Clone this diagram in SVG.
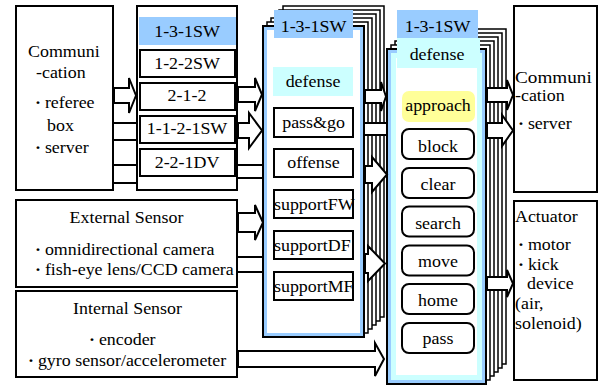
<svg xmlns="http://www.w3.org/2000/svg" width="607" height="388" viewBox="0 0 607 388">
<style>
.t{font-family:'Liberation Serif','Times New Roman',serif;font-size:16px;fill:#000}
.b{font-weight:bold}
.m{text-anchor:middle}
.box{fill:#fff;stroke:#000;stroke-width:2}
.ib{fill:none;stroke:#000;stroke-width:2}
.layer{fill:#fff;stroke:#000;stroke-width:1.5}
.blue{fill:#99CCFF}
.cyan{fill:#CCFFFF}
.arr{fill:#fff;stroke:#000;stroke-width:2;stroke-linejoin:miter}
.ln{stroke:#000;stroke-width:2;fill:none}
</style>
<rect x="0" y="0" width="607" height="388" fill="#fff"/>

<g id="comm-left">
<rect class="box" x="16" y="6" width="97" height="184"/>
<text class="t" transform="translate(28,57) scale(1.12,1)">Communi</text>
<text class="t" transform="translate(36,78) scale(1.12,1)">-cation</text>
<text class="t" transform="translate(35,108) scale(1.12,1)"><tspan class="b">·</tspan><tspan dx="3.5">referee</tspan></text>
<text class="t" transform="translate(47,131) scale(1.12,1)">box</text>
<text class="t" transform="translate(35,153) scale(1.12,1)"><tspan class="b">·</tspan><tspan dx="3.5">server</tspan></text>
</g>

<g id="formation">
<rect class="box" x="137" y="6" width="100" height="184"/>
<rect class="blue" x="139" y="17" width="97" height="28"/>
<rect class="ib" x="140" y="50" width="95" height="27"/>
<rect class="ib" x="140" y="83" width="95" height="27"/>
<rect class="ib" x="140" y="116" width="95" height="27"/>
<rect class="ib" x="140" y="149" width="95" height="27"/>
<text class="t m" transform="translate(187,36.5) scale(1.12,1)">1-3-1SW</text>
<text class="t m" transform="translate(187,68.5) scale(1.12,1)">1-2-2SW</text>
<text class="t m" transform="translate(187,101) scale(1.12,1)">2-1-2</text>
<text class="t m" transform="translate(187,134) scale(1.12,1)">1-1-2-1SW</text>
<text class="t m" transform="translate(187,167.5) scale(1.12,1)">2-2-1DV</text>
</g>

<g id="external-sensor">
<rect class="box" x="16" y="200" width="221" height="87"/>
<text class="t m" transform="translate(126.5,223) scale(1.12,1)">External Sensor</text>
<text class="t" transform="translate(35,255) scale(1.12,1)"><tspan class="b">·</tspan><tspan dx="3.5">omnidirectional camera</tspan></text>
<text class="t" transform="translate(35,275) scale(1.12,1)"><tspan class="b">·</tspan><tspan dx="3.5">fish-eye lens/CCD camera</tspan></text>
</g>

<g id="internal-sensor">
<rect class="box" x="16" y="291" width="221" height="86"/>
<text class="t m" transform="translate(127.5,314) scale(1.12,1)">Internal Sensor</text>
<text class="t" transform="translate(89,345) scale(1.12,1)"><tspan class="b">·</tspan><tspan dx="3.5">encoder</tspan></text>
<text class="t" transform="translate(28,366) scale(1.12,1)"><tspan class="b">·</tspan><tspan dx="3.5">gyro sensor/accelerometer</tspan></text>
</g>

<g id="stack-roles">
<rect class="layer" x="283" y="6" width="101" height="311"/>
<rect class="layer" x="279" y="10" width="101" height="311"/>
<rect class="layer" x="275" y="14" width="101" height="311"/>
<rect class="layer" x="271" y="18" width="101" height="311"/>
<rect class="layer" x="267" y="22" width="101" height="311"/>
<rect class="box" x="263" y="26" width="101" height="311"/>
<rect x="265.5" y="28.5" width="96" height="306" fill="none" stroke="#99CCFF" stroke-width="3"/>
<rect class="blue" x="274" y="10" width="79" height="28"/>
<text class="t m" transform="translate(313.5,32) scale(1.12,1)">1-3-1SW</text>
<rect class="cyan" x="273" y="67" width="80" height="29"/>
<text class="t m" transform="translate(313,87) scale(1.12,1)">defense</text>
<text class="t m" transform="translate(313.5,128) scale(1.12,1)">pass&amp;go</text>
<text class="t m" transform="translate(313.5,168) scale(1.12,1)">offense</text>
<text class="t" transform="translate(274,209.5) scale(1.12,1)">supportFW</text>
<text class="t" transform="translate(274,250.5) scale(1.12,1)">supportDF</text>
<text class="t" transform="translate(274,291.5) scale(1.12,1)">supportMF</text>
<rect class="ib" x="274" y="108" width="79" height="29"/>
<rect class="ib" x="274" y="149" width="79" height="28"/>
<rect class="ib" x="274" y="190" width="79" height="28"/>
<rect class="ib" x="274" y="231" width="79" height="28"/>
<rect class="ib" x="274" y="272" width="79" height="28"/>
</g>

<g id="stack-defense">
<rect class="layer" x="407" y="29" width="99" height="335"/>
<rect class="layer" x="403" y="33" width="99" height="335"/>
<rect class="layer" x="399" y="37" width="99" height="335"/>
<rect class="layer" x="395" y="41" width="99" height="335"/>
<rect class="layer" x="391" y="45" width="99" height="335"/>
<rect class="box" x="387" y="49" width="99" height="335"/>
<rect x="389.5" y="51.5" width="94" height="330" fill="none" stroke="#99CCFF" stroke-width="3"/>
<rect x="393.5" y="55.5" width="86" height="322" fill="none" stroke="#CCFFFF" stroke-width="5"/>
<rect class="blue" x="397" y="10" width="81" height="28"/>
<text class="t m" transform="translate(437.5,32) scale(1.12,1)">1-3-1SW</text>
<rect class="cyan" x="397" y="38" width="83" height="30"/>
<text class="t m" transform="translate(437,60) scale(1.12,1)">defense</text>
<rect x="402" y="91" width="73" height="31" rx="7" fill="#FFFF99"/>
<text class="t m" transform="translate(438,111) scale(1.12,1)">approach</text>
<rect class="ib" x="402" y="129" width="72" height="30" rx="7"/>
<rect class="ib" x="402" y="168" width="72" height="30" rx="7"/>
<rect class="ib" x="402" y="206.5" width="72" height="30" rx="7"/>
<rect class="ib" x="402" y="245.5" width="72" height="30" rx="7"/>
<rect class="ib" x="402" y="284" width="72" height="30" rx="7"/>
<rect class="ib" x="402" y="323" width="72" height="30" rx="7"/>
<text class="t m" transform="translate(438,151.5) scale(1.12,1)">block</text>
<text class="t m" transform="translate(438,190) scale(1.12,1)">clear</text>
<text class="t m" transform="translate(438,228.5) scale(1.12,1)">search</text>
<text class="t m" transform="translate(438,267) scale(1.12,1)">move</text>
<text class="t m" transform="translate(438,305.5) scale(1.12,1)">home</text>
<text class="t m" transform="translate(438,344) scale(1.12,1)">pass</text>
</g>

<g id="comm-right">
<rect class="box" x="514" y="6" width="83" height="186"/>
<text class="t" transform="translate(515,83) scale(1.2,1)">Communi</text>
<text class="t" transform="translate(515,101) scale(1.12,1)">-cation</text>
<text class="t" transform="translate(518,129) scale(1.12,1)"><tspan class="b">·</tspan><tspan dx="3.5">server</tspan></text>
</g>

<g id="actuator">
<rect class="box" x="514" y="201" width="83" height="179"/>
<text class="t" transform="translate(515,222) scale(1.12,1)">Actuator</text>
<text class="t" transform="translate(518,250) scale(1.12,1)"><tspan class="b">·</tspan><tspan dx="3.5">motor</tspan></text>
<text class="t" transform="translate(518,270) scale(1.12,1)"><tspan class="b">·</tspan><tspan dx="3.5">kick</tspan></text>
<text class="t" transform="translate(527,289) scale(1.12,1)">device</text>
<text class="t" transform="translate(515,309) scale(1.12,1)">(air,</text>
<text class="t" transform="translate(515,329) scale(1.12,1)">solenoid)</text>
</g>

<g id="connectors">
<polygon class="arr" points="114,88 129,88 129,78 136,95.5 129,113 129,103 114,103"/>
<path class="ln" d="M113,123H136M113,140H136M113,165H136M113,183H136"/>
<polygon class="arr" points="238,87 255,87 255,78 262,94.5 255,111 255,102 238,102"/>
<polygon class="arr" points="238,123 249,123 249,113 262,130.5 249,148 249,138 238,138"/>
<path class="ln" d="M238,165H262M238,178H262"/>
<polygon class="arr" points="238,213 255,213 255,205 263,222.5 255,240 255,232 238,232"/>
<path class="ln" d="M238,257H262M238,272H262"/>
<polygon class="arr" points="238,351 375,351 375,343 384,359 375,376 375,367 238,367"/>
<polygon class="arr" points="365,90 381,90 381,82 386,96.5 381,111 381,103 365,103"/>
<rect x="365" y="123" width="21" height="12" fill="#fff"/>
<path class="ln" d="M365,123H386M365,135H386"/>
<polygon class="arr" points="365,166 372,166 372,157 387,174.5 372,192 372,183 365,183"/>
<polygon class="arr" points="365,254 368,254 368,246 385,263.5 368,281 368,273 365,273"/>
<polygon class="arr" points="487,88 507,88 507,80 513,95 507,110 507,102 487,102"/>
<polygon class="arr" points="487,123 502,123 502,115 513,130.5 502,146 502,138 487,138"/>
<polygon class="arr" points="487,277 507,277 507,270 513,283.5 507,297 507,290 487,290"/>
</g>
</svg>
